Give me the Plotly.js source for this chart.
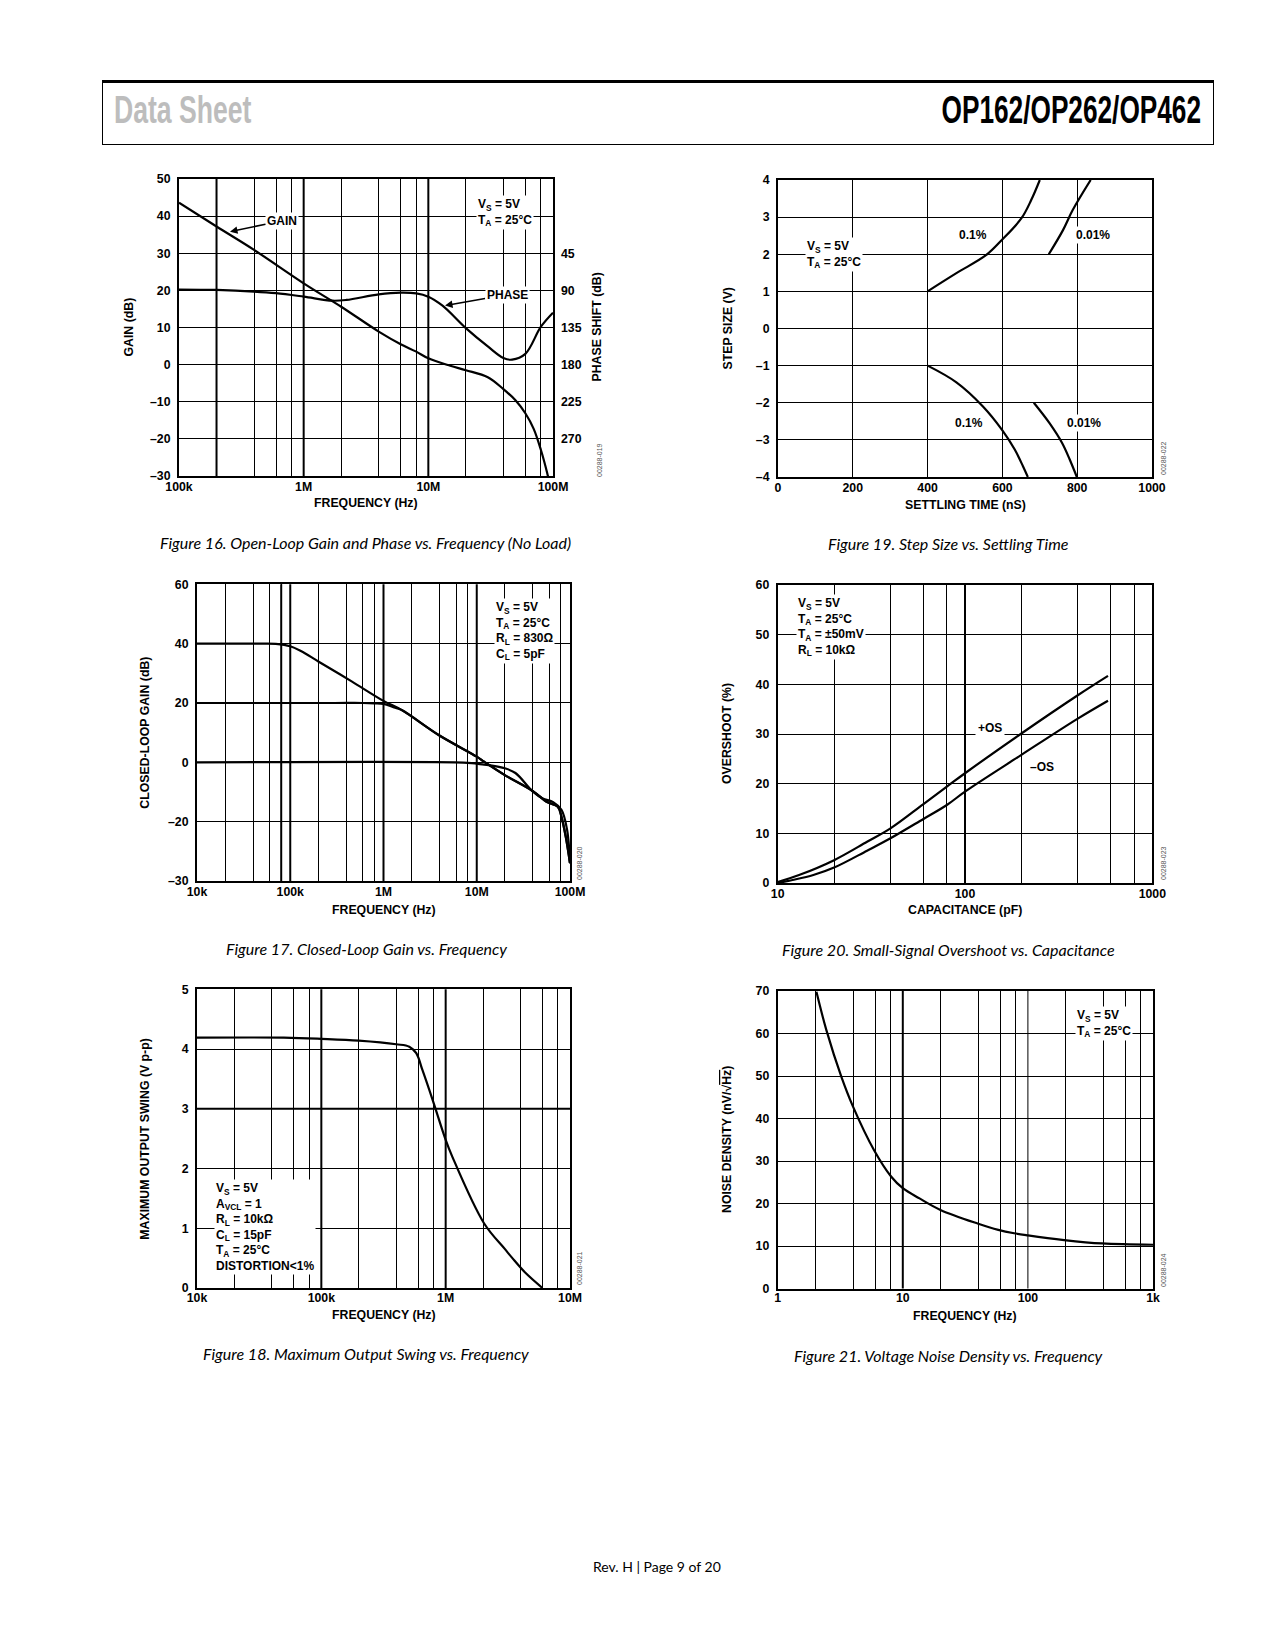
<!DOCTYPE html>
<html>
<head>
<meta charset="utf-8">
<script src="https://cdn.plot.ly/plotly-3.0.1.min.js"></script>
<style>
  body { margin: 0; background: #fff; }
  #chart { position: absolute; left: 0; top: 0; width: 1275px; height: 1650px; }
  .hd { position: absolute; font-family: 'Liberation Sans', Arial, sans-serif; font-weight: bold;
        font-size: 38px; line-height: 38px; white-space: nowrap; }
</style>
</head>
<body>
<div id="chart"></div>
<div style="position:absolute;left:102px;top:80px;width:1112px;height:65px;border:1px solid #000;border-top:3px solid #000;box-sizing:border-box"></div>
<div class="hd" style="left:114px;top:91px;color:#bdbdbd;transform:scaleX(0.7);transform-origin:left top">Data Sheet</div>
<div class="hd" style="right:74px;top:91px;color:#000;transform:scaleX(0.69);transform-origin:right top">OP162/OP262/OP462</div>
<script>
// ---------------- DATA ----------------
// Figure 16: open-loop gain (dB) and phase (deg) vs frequency
const f16Gain  = [1e5, 2e5, 4e5, 1e6, 2e6, 4e6, 6e6, 8e6, 1e7, 1.5e7, 2e7, 3e7, 4e7, 5e7, 6e7, 7e7, 8e7, 9e7, 1e8];
const gain16   = [43.6, 37.2, 30.9, 21.9, 15.6, 8.9, 5.5, 3.5, 1.7, -0.3, -1.5, -3.4, -6.6, -9.6, -13.1, -17.3, -23, -29.3, -36];
const f16Phase = [1e5, 2e5, 4e5, 6e5, 1e6, 1.7e6, 2.2e6, 4e6, 6e6, 8e6, 1e7, 1.3e7, 2e7, 3e7, 4e7, 4.7e7, 6e7, 8e7, 1e8];
const phase16  = [89, 89.5, 91.4, 93.4, 97.6, 102.5, 101.6, 94.8, 92.7, 93.6, 97.6, 108.5, 135.8, 158, 172, 174, 167, 134, 117];
const ticks16X = [1e5, 1e6, 1e7, 1e8];
const ticks16XText = ['100k', '1M', '10M', '100M'];
const ticks16Y = [50, 40, 30, 20, 10, 0, -10, -20, -30];
const ticks16Phase = [45, 90, 135, 180, 225, 270];

// Figure 19: step size vs settling time
const t19Up01  = [400, 477, 557, 599, 651, 677, 700];
const v19Up01  = [1.0, 1.49, 1.98, 2.39, 2.97, 3.46, 4.0];
const t19Up001 = [724, 762, 788, 836];
const v19Up001 = [2.0, 2.65, 3.19, 4.0];
const t19Dn01  = [400, 477, 548, 599, 633, 655, 668];
const v19Dn01  = [-1.0, -1.45, -2.1, -2.73, -3.26, -3.71, -4.0];
const t19Dn001 = [684, 726, 760, 780, 799];
const v19Dn001 = [-2.0, -2.55, -3.09, -3.53, -4.0];
const ticks19X = [0, 200, 400, 600, 800, 1000];
const ticks19Y = [4, 3, 2, 1, 0, -1, -2, -3, -4];

// Figure 17: closed-loop gain vs frequency
const f17G40 = [1e4, 5e4, 7e4, 1e5, 1.3e5, 2e5, 4.6e5, 1e6, 1.57e6, 3.9e6, 1e7, 1.2e7, 2e7, 4e7, 5.6e7, 7.4e7, 8.1e7, 9e7, 1e8];
const g17G40 = [40, 40, 39.9, 39.1, 37.5, 34, 27.2, 20.7, 17.6, 9.2, 1.9, 0.2, -4.3, -9.7, -13.3, -15, -18.4, -25, -34];
const f17G20 = [1e4, 3e5, 6e5, 8e5, 1e6, 1.3e6, 1.57e6, 3.9e6, 1e7, 1.2e7, 2e7, 4e7, 5.6e7, 7.4e7, 8.1e7, 9e7, 1e8];
const g17G20 = [20, 20, 20, 19.9, 19.7, 18.5, 17.6, 9.2, 1.9, 0.2, -4.3, -9.7, -13.3, -15, -18.4, -25, -34];
const f17G0  = [1e4, 5.8e6, 8.8e6, 1.2e7, 1.4e7, 2e7, 2.6e7, 4e7, 5.1e7, 6.6e7, 8.1e7, 9.3e7, 1e8];
const g17G0  = [0, 0, -0.3, -0.8, -1.0, -2.0, -3.6, -9.9, -12.2, -13.4, -16, -22.7, -34];
const ticks17X = [1e4, 1e5, 1e6, 1e7, 1e8];
const ticks17XText = ['10k', '100k', '1M', '10M', '100M'];
const ticks17Y = [60, 40, 20, 0, -20, -40];
const ticks17YText = ['60', '40', '20', '0', '–20', '–30'];

// Figure 20: small-signal overshoot vs capacitance
const c20Pos = [10, 13, 20, 30, 40, 60, 80, 100, 200, 400, 580];
const os20Pos = [0.2, 1.6, 4.6, 8.3, 11, 15.9, 19.4, 22.1, 30.1, 37.8, 41.7];
const c20Neg = [10, 12, 15.5, 20, 30, 40, 60, 80, 100, 200, 400, 580];
const os20Neg = [0, 0.6, 1.6, 3.1, 6.5, 9.0, 12.9, 15.7, 18.4, 25.8, 33.1, 36.7];
const ticks20X = [10, 100, 1000];
const ticks20Y = [0, 10, 20, 30, 40, 50, 60];

// Figure 18: maximum output swing vs frequency
const f18 = [1e4, 5e4, 1e5, 2e5, 4e5, 5.1e5, 5.8e5, 6.5e5, 7.85e5, 1e6, 1.13e6, 2.04e6, 3e6, 3.44e6, 4.4e6, 6e6];
const swing18 = [4.19, 4.19, 4.17, 4.14, 4.08, 4.04, 3.93, 3.65, 3.15, 2.48, 2.2, 1.08, 0.65, 0.5, 0.25, 0.0];
const ticks18X = [1e4, 1e5, 1e6, 1e7];
const ticks18XText = ['10k', '100k', '1M', '10M'];
const ticks18Y = [0, 1, 2, 3, 4, 5];

// Figure 21: voltage noise density vs frequency
const f21 = [2.04, 2.45, 3.23, 4, 5.88, 8.09, 10, 13.6, 20, 39.6, 58, 77.6, 100, 195, 391, 1000];
const noise21 = [69.8, 60.8, 49.8, 42.8, 32.6, 26.3, 23.6, 21.2, 18.5, 15.3, 13.8, 13, 12.5, 11.4, 10.6, 10.3];
const ticks21X = [1, 10, 100, 1000];
const ticks21XText = ['1', '10', '100', '1k'];
const ticks21Y = [0, 10, 20, 30, 40, 50, 60, 70];

// ---------------- LAYOUT HELPERS ----------------
const W = 1275, H = 1650;
const dx = p => p / W;
const dy = p => 1 - p / H;
const fmt = v => (v < 0 ? '–' + Math.abs(v) : String(v));
const FONT = 'Liberation Sans, Arial, Helvetica, sans-serif';
const tickFont = { family: FONT, size: 12.3, color: '#000', weight: 'bold' };
const lblFont = { family: FONT, size: 12.3, color: '#000', weight: 'bold' };
const boxFont = { family: FONT, size: 12, color: '#000', weight: 'bold' };
const capFont = { family: 'Lato, Open Sans, sans-serif', size: 16, color: '#000' };

function minors(e0, e1) {
  const out = [];
  for (let e = e0; e < e1; e++) for (const m of [2, 4, 6, 8]) out.push(m * Math.pow(10, e));
  return out;
}
function axis(extra) {
  return Object.assign({
    showline: true, mirror: true, linecolor: '#000', linewidth: 2, ticks: '',
    tickfont: tickFont, zeroline: false, showgrid: true, gridcolor: '#000', gridwidth: 1,
    fixedrange: true, tickmode: 'array'
  }, extra);
}
function logX(domain, e0, e1, vals, text, anchor, st) {
  return axis({
    type: 'log', domain: domain, range: [e0, e1], anchor: anchor,
    tickvals: vals, ticktext: text, showgrid: false, ticklabelstandoff: st,
    minor: { tickmode: 'array', tickvals: minors(e0, e1), showgrid: true, gridcolor: '#000', gridwidth: 1, ticks: '' }
  });
}
function linY(domain, range, vals, text, anchor) {
  return axis({ domain: domain, range: range, anchor: anchor, tickvals: vals,
    ticktext: text || vals.map(fmt), ticklabelstandoff: 4 });
}
function vline(xr, v, w) {
  return { type: 'line', xref: xr, yref: xr.replace('x', 'y') + ' domain', x0: v, x1: v, y0: 0, y1: 1,
    line: { color: '#000', width: w }, layer: 'below' };
}
function lbl(text, x, y, o) {
  return Object.assign({ xref: 'paper', yref: 'paper', x: dx(x), y: dy(y), text: text,
    showarrow: false, font: lblFont, xanchor: 'center', yanchor: 'middle' }, o || {});
}
function box(text, x, y) {
  return lbl(text, x, y, { xanchor: 'left', yanchor: 'top', align: 'left', bgcolor: '#fff', borderpad: 1, font: boxFont });
}
function tag(text, x, y) {
  return lbl(text, x, y, { bgcolor: '#fff', borderpad: 1, font: boxFont });
}
function ytitle(text, x, y) { return lbl(text, x, y, { textangle: -90 }); }
function code(text, x, y) {
  return lbl(text, x, y, { textangle: -90, font: { family: FONT, size: 7, color: '#555' } });
}
function cap(text, x, y) { return lbl('<i>' + text + '</i>', x, y, { font: capFont }); }

const line = { color: '#000', width: 2.2, shape: 'spline', smoothing: 1 };

// ---------------- TRACES ----------------
const traces = [
  { x: f16Gain, y: gain16, xaxis: 'x', yaxis: 'y', mode: 'lines', line: line },
  { x: f16Phase, y: phase16, xaxis: 'x', yaxis: 'y7', mode: 'lines', line: line },
  { x: t19Up01, y: v19Up01, xaxis: 'x2', yaxis: 'y2', mode: 'lines', line: line },
  { x: t19Up001, y: v19Up001, xaxis: 'x2', yaxis: 'y2', mode: 'lines', line: line },
  { x: t19Dn01, y: v19Dn01, xaxis: 'x2', yaxis: 'y2', mode: 'lines', line: line },
  { x: t19Dn001, y: v19Dn001, xaxis: 'x2', yaxis: 'y2', mode: 'lines', line: line },
  { x: f17G40, y: g17G40, xaxis: 'x3', yaxis: 'y3', mode: 'lines', line: line },
  { x: f17G20, y: g17G20, xaxis: 'x3', yaxis: 'y3', mode: 'lines', line: line },
  { x: f17G0, y: g17G0, xaxis: 'x3', yaxis: 'y3', mode: 'lines', line: line },
  { x: c20Pos, y: os20Pos, xaxis: 'x4', yaxis: 'y4', mode: 'lines', line: line },
  { x: c20Neg, y: os20Neg, xaxis: 'x4', yaxis: 'y4', mode: 'lines', line: line },
  { x: f18, y: swing18, xaxis: 'x5', yaxis: 'y5', mode: 'lines', line: line },
  { x: f21, y: noise21, xaxis: 'x6', yaxis: 'y6', mode: 'lines', line: line }
];

// ---------------- AXES ----------------
const layout = {
  width: W, height: H, autosize: false, showlegend: false,
  margin: { l: 0, r: 0, t: 0, b: 0 },
  paper_bgcolor: '#fff', plot_bgcolor: '#fff',
  font: { family: FONT, color: '#000' },
  xaxis:  logX([dx(179), dx(553)], 5, 8, ticks16X, ticks16XText, 'y', -2),
  yaxis:  linY([dy(476), dy(179)], [-30, 50], ticks16Y, null, 'x'),
  yaxis7: { overlaying: 'y', side: 'right', anchor: 'x', range: [315, -45], tickmode: 'array',
            tickvals: ticks16Phase, ticktext: ticks16Phase.map(String), showgrid: false, showline: false,
            zeroline: false, ticks: '', tickfont: tickFont, ticklabelstandoff: 7, fixedrange: true },
  xaxis2: axis({ domain: [dx(778), dx(1152)], range: [0, 1000], anchor: 'y2', tickvals: ticks19X,
                 ticktext: ticks19X.map(String), ticklabelstandoff: -2 }),
  yaxis2: linY([dy(477), dy(180)], [-4, 4], ticks19Y, null, 'x2'),
  xaxis3: logX([dx(197), dx(570)], 4, 8, ticks17X, ticks17XText, 'y3', -2),
  yaxis3: linY([dy(881), dy(584.3)], [-40, 60], ticks17Y, ticks17YText, 'x3'),
  xaxis4: logX([dx(777.7), dx(1152.3)], 1, 3, ticks20X, ticks20X.map(String), 'y4', -2),
  yaxis4: linY([dy(883), dy(585)], [0, 60], ticks20Y, null, 'x4'),
  xaxis5: logX([dx(197), dx(570)], 4, 7, ticks18X, ticks18XText, 'y5', -3),
  yaxis5: linY([dy(1288), dy(989.3)], [0, 5], ticks18Y, null, 'x5'),
  xaxis6: logX([dx(777.7), dx(1153)], 0, 3, ticks21X, ticks21XText, 'y6', -3),
  yaxis6: linY([dy(1288.5), dy(991)], [0, 70], ticks21Y, null, 'x6'),
  shapes: [
    vline('x', 2e5, 2), vline('x', 1e6, 2), vline('x', 1e7, 2),
    vline('x3', 8e4, 2), vline('x3', 1e5, 2), vline('x3', 1e6, 2), vline('x3', 1e7, 2),
    vline('x4', 100, 2),
    vline('x5', 1e5, 2), vline('x5', 1e6, 2),
    { type: 'line', xref: 'x5 domain', yref: 'y5', x0: 0, x1: 1, y0: 3, y1: 3, line: { color: '#000', width: 2 }, layer: 'below' },
    vline('x6', 10, 2), vline('x6', 100, 1)
  ],
  annotations: [
    // Figure 16
    box('V<sub>S</sub> = 5V<br>T<sub>A</sub> = 25°C', 476, 195),
    { xref: 'x', yref: 'y', x: 5.409, y: 35.8, ax: 52, ay: -11, text: 'GAIN', showarrow: true,
      arrowhead: 2, arrowsize: 1, arrowwidth: 1.5, arrowcolor: '#000', font: boxFont, bgcolor: '#fff', borderpad: 1 },
    { xref: 'x', yref: 'y', x: 7.134, y: 15.9, ax: 62, ay: -11, text: 'PHASE', showarrow: true,
      arrowhead: 2, arrowsize: 1, arrowwidth: 1.5, arrowcolor: '#000', font: boxFont, bgcolor: '#fff', borderpad: 1 },
    ytitle('GAIN (dB)', 128, 327.5),
    ytitle('PHASE SHIFT (dB)', 596, 327.5),
    lbl('FREQUENCY (Hz)', 366, 503),
    code('00288-019', 599, 460),
    cap('Figure 16. Open-Loop Gain and Phase vs. Frequency (No Load)', 365, 542),
    // Figure 19
    box('V<sub>S</sub> = 5V<br>T<sub>A</sub> = 25°C', 805, 237),
    tag('0.1%', 973, 235),
    tag('0.01%', 1093, 235),
    tag('0.1%', 969, 423),
    tag('0.01%', 1084, 423),
    ytitle('STEP SIZE (V)', 727, 328.5),
    lbl('SETTLING TIME (nS)', 965, 505),
    code('00288-022', 1163, 458),
    cap('Figure 19. Step Size vs. Settling Time', 948, 543),
    // Figure 17
    box('V<sub>S</sub> = 5V<br>T<sub>A</sub> = 25°C<br>R<sub>L</sub> = 830Ω<br>C<sub>L</sub> = 5pF', 494, 598),
    ytitle('CLOSED-LOOP GAIN (dB)', 145, 732.7),
    lbl('FREQUENCY (Hz)', 384, 910),
    code('00288-020', 579, 863),
    cap('Figure 17. Closed-Loop Gain vs. Frequency', 366, 948),
    // Figure 20
    box('V<sub>S</sub> = 5V<br>T<sub>A</sub> = 25°C<br>T<sub>A</sub> = ±50mV<br>R<sub>L</sub> = 10kΩ', 796, 594),
    lbl('+OS', 990, 728, { bgcolor: '#fff', borderpad: 2, font: boxFont }),
    tag('–OS', 1042, 767),
    ytitle('OVERSHOOT (%)', 727, 734),
    lbl('CAPACITANCE (pF)', 965, 910),
    code('00288-023', 1163, 863),
    cap('Figure 20. Small-Signal Overshoot vs. Capacitance', 949, 949),
    // Figure 18
    box('V<sub>S</sub> = 5V<br>A<sub>VCL</sub> = 1<br>R<sub>L</sub> = 10kΩ<br>C<sub>L</sub> = 15pF<br>T<sub>A</sub> = 25°C<br>DISTORTION&lt;1%', 214, 1179),
    ytitle('MAXIMUM OUTPUT SWING (V p-p)', 145, 1138.7),
    lbl('FREQUENCY (Hz)', 384, 1315),
    code('00288-021', 579, 1268),
    cap('Figure 18. Maximum Output Swing vs. Frequency', 366, 1353),
    // Figure 21
    box('V<sub>S</sub> = 5V<br>T<sub>A</sub> = 25°C', 1075, 1006),
    ytitle('NOISE DENSITY (nV/√<span style="text-decoration:overline">Hz</span>)', 727, 1140),
    lbl('FREQUENCY (Hz)', 965, 1316),
    code('00288-024', 1163, 1270),
    cap('Figure 21. Voltage Noise Density vs. Frequency', 949, 1355),
    // footer
    lbl('Rev. H | Page 9 of 20', 657, 1566, { font: { family: 'Lato, Open Sans, sans-serif', size: 14, color: '#000' } })
  ]
};

Plotly.newPlot('chart', traces, layout, { staticPlot: true, displayModeBar: false });
</script>
</body>
</html>
